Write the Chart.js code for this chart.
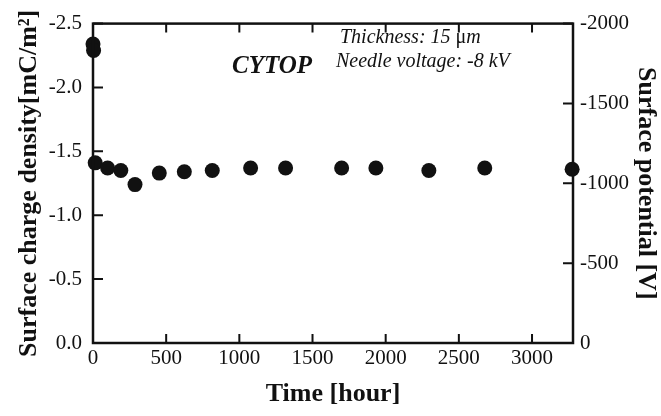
<!DOCTYPE html>
<html>
<head>
<meta charset="utf-8">
<script src="https://cdn.jsdelivr.net/npm/chart.js@4"></script>
<style>
  html, body { margin: 0; padding: 0; background: #fff; }
  #wrap { width: 661px; height: 416px; }
</style>
</head>
<body>
<div id="wrap"><canvas id="myChart"></canvas></div>
<script>
// Surface charge decay of a CYTOP electret over time

const timeHours = [0, 4, 15, 100, 190, 287, 453, 624, 815, 1077, 1316, 1699, 1933, 2295, 2677, 3274];
const chargeDensity = [-2.34, -2.29, -1.41, -1.37, -1.35, -1.24, -1.33, -1.34, -1.35, -1.37, -1.37, -1.37, -1.37, -1.35, -1.37, -1.36];
const timeTicks = [0, 500, 1000, 1500, 2000, 2500, 3000];
const chargeTicks = [0, -0.5, -1.0, -1.5, -2.0, -2.5];
const potentialTicks = [0, -500, -1000, -1500, -2000];

const serif = "'Liberation Serif', 'Times New Roman', serif";

const points = timeHours.map((t, i) => ({ x: t, y: chargeDensity[i] }));

// frame, inward tick marks and the text notes
const framePlugin = {
  id: "frame",
  afterDraw(chart) {
    const { ctx, chartArea: a, scales } = chart;
    ctx.save();
    ctx.strokeStyle = "#111";
    ctx.lineWidth = 2.5;
    ctx.strokeRect(a.left, a.top, a.right - a.left, a.bottom - a.top);

    ctx.lineWidth = 2;
    ctx.beginPath();
    timeTicks.forEach((v) => {
      const px = scales.x.getPixelForValue(v);
      ctx.moveTo(px, a.bottom);
      ctx.lineTo(px, a.bottom - 9);
      ctx.moveTo(px, a.top);
      ctx.lineTo(px, a.top + 9);
    });
    chargeTicks.forEach((v) => {
      const py = scales.y.getPixelForValue(v);
      ctx.moveTo(a.left, py);
      ctx.lineTo(a.left + 10, py);
    });
    potentialTicks.forEach((v) => {
      const py = scales.y2.getPixelForValue(v);
      ctx.moveTo(a.right, py);
      ctx.lineTo(a.right - 10, py);
    });
    ctx.stroke();

    ctx.fillStyle = "#111";
    ctx.textBaseline = "alphabetic";
    ctx.font = "italic bold 25px " + serif;
    ctx.fillText("CYTOP", 232, 73);

    ctx.font = "italic 20px " + serif;
    let x = 340;
    const part1 = "Thickness: 15 ";
    ctx.fillText(part1, x, 43);
    x += ctx.measureText(part1).width;
    ctx.font = "20px " + serif;
    ctx.fillText("\u03bc", x, 43);
    x += ctx.measureText("\u03bc").width;
    ctx.font = "italic 20px " + serif;
    ctx.fillText("m", x, 43);
    ctx.fillText("Needle voltage: -8 kV", 336, 67);
    ctx.restore();
  },
};

const data = {
  datasets: [
    {
      label: "CYTOP",
      data: points,
      showLine: false,
      pointRadius: 7.5,
      pointHoverRadius: 7.5,
      backgroundColor: "#111",
      borderColor: "#111",
      borderWidth: 0,
      clip: false,
      yAxisID: "y",
    },
  ],
};

const tickFont = { family: serif, size: 21 };
const titleFont = { family: serif, size: 26, weight: "bold" };

const options = {
  responsive: true,
  maintainAspectRatio: false,
  animation: false,
  events: [],
  layout: { padding: { top: 23, left: 0, right: 0, bottom: 0 } },
  plugins: {
    legend: { display: false },
    tooltip: { enabled: false },
  },
  scales: {
    x: {
      type: "linear",
      min: 0,
      max: 3280,
      afterBuildTicks: (s) => { s.ticks = timeTicks.map((v) => ({ value: v })); },
      afterFit: (s) => { s.height = 73; },
      grid: { display: false, drawTicks: false },
      border: { display: false },
      ticks: { color: "#111", font: tickFont, padding: 3, maxRotation: 0, callback: (v) => String(v) },
      title: {
        display: true,
        text: "Time [hour]",
        color: "#111",
        font: titleFont,
        padding: { top: 0, bottom: 6 },
      },
    },
    y: {
      type: "linear",
      position: "left",
      min: -2.5,
      max: 0,
      reverse: true,
      afterBuildTicks: (s) => { s.ticks = chargeTicks.map((v) => ({ value: v })); },
      afterFit: (s) => { s.width = 93; },
      grid: { display: false, drawTicks: false },
      border: { display: false },
      ticks: {
        color: "#111",
        font: tickFont,
        padding: 11,
        callback: (v) => Number(v).toFixed(1),
      },
      title: {
        display: true,
        text: "Surface charge density[mC/m\u00b2]",
        color: "#111",
        font: titleFont,
        padding: { top: 14, bottom: 0 },
      },
    },
    y2: {
      type: "linear",
      position: "right",
      min: -2000,
      max: 0,
      reverse: true,
      afterBuildTicks: (s) => { s.ticks = potentialTicks.map((v) => ({ value: v })); },
      afterFit: (s) => { s.width = 88; },
      grid: { display: false, drawTicks: false },
      border: { display: false },
      ticks: { color: "#111", font: tickFont, padding: 7, callback: (v) => String(v) },
      title: {
        display: true,
        text: "Surface potential [V]",
        color: "#111",
        font: titleFont,
        padding: { top: 0, bottom: 0 },
      },
    },
  },
};

const config = {
  type: "scatter",
  data: data,
  options: options,
  plugins: [framePlugin],
};

const chart = new Chart(document.querySelector("#myChart"), config);
</script>
</body>
</html>
